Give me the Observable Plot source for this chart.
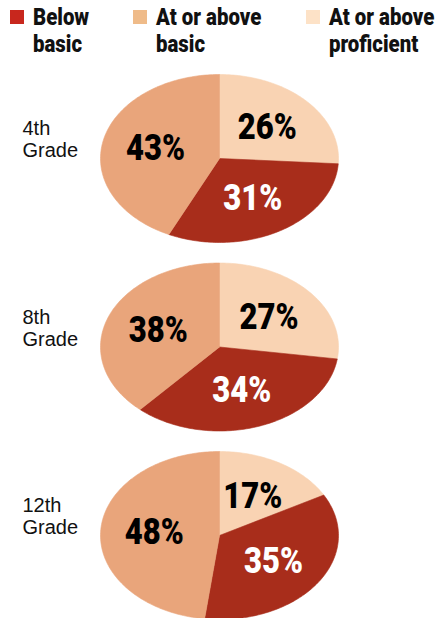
<!DOCTYPE html>
<html>
<head>
<meta charset="utf-8">
<script src="https://cdn.jsdelivr.net/npm/d3@7"></script>
<script src="https://cdn.jsdelivr.net/npm/@observablehq/plot@0.6"></script>
<style>
  html, body { margin: 0; padding: 0; background: #fff; }
  body { width: 436px; height: 618px; overflow: hidden; position: relative; }
  #legend { position: relative; height: 68px; font-family: Roboto, "Liberation Sans", sans-serif; font-weight: 900; font-size: 24px; line-height: 27px; color: #111; }
  .item { position: absolute; top: 4px; }
  .sw { position: absolute; left: 0; top: 6px; width: 14px; height: 14px; }
  .txt { position: absolute; left: 23px; top: 0; white-space: nowrap; transform: scaleX(0.85); transform-origin: 0 0; }
  #chart svg { display: block; }
</style>
</head>
<body>
<div id="legend"></div>
<div id="chart"></div>
<script>
// ---- data ----
const grades = ["4th", "8th", "12th"];
const categories = ["Below basic", "At or above basic", "At or above proficient"];
const legendLines = [["Below", "basic"], ["At or above", "basic"], ["At or above", "proficient"]];
const belowBasic = [31, 34, 35];
const atOrAboveBasic = [43, 38, 48];
const atOrAboveProficient = [26, 27, 17];

// ---- styles ----
const pieColors = ["#a82d1b", "#e9a57b", "#f9d3b3"];
const legendColors = ["#c8271d", "#efbb89", "#fde2c7"];
const labelColors = ["#ffffff", "#000000", "#000000"];
const legendX = [10, 133, 306];

// legend
const legend = document.getElementById("legend");
categories.forEach((c, i) => {
  const d = document.createElement("div");
  d.className = "item";
  d.style.left = legendX[i] + "px";
  d.innerHTML = `<span class="sw" style="background:${legendColors[i]}"></span><span class="txt">${legendLines[i][0]}<br>${legendLines[i][1]}</span>`;
  legend.appendChild(d);
});

// layout
const W = 436, H = 550;
const cx = 219, rx = 119, ry = 84;
const cy0 = 90, dy = 188.5;

// clockwise from 12 o'clock: proficient, below basic, at/above basic
const order = [2, 0, 1];
const seriesByCat = [belowBasic, atOrAboveBasic, atOrAboveProficient];

const slicePts = [];
const labels = [];
grades.forEach((g, gi) => {
  const cy = cy0 + gi * dy;
  const vals = order.map(ci => seriesByCat[ci][gi]);
  const total = d3.sum(vals);
  let acc = 0;
  order.forEach((ci, k) => {
    const v = vals[k];
    const a0 = acc / total * 2 * Math.PI;
    const a1 = (acc + v) / total * 2 * Math.PI;
    acc += v;
    const key = g + "-" + ci;
    slicePts.push({key, cat: categories[ci], x: cx, y: cy});
    const n = Math.max(2, Math.ceil((a1 - a0) / 0.02));
    for (let j = 0; j <= n; j++) {
      const a = a0 + (a1 - a0) * j / n;
      slicePts.push({key, cat: categories[ci], x: cx + rx * Math.sin(a), y: cy - ry * Math.cos(a)});
    }
    slicePts.push({key, cat: categories[ci], x: cx, y: cy});
    const am = (a0 + a1) / 2;
    labels.push({text: v + "%", x: cx + 0.55 * rx * Math.sin(am), y: cy - 0.55 * ry * Math.cos(am), color: labelColors[ci]});
  });
});

const gradeLabels = grades.map((g, gi) => ({text: g + "\nGrade", x: 22, y: cy0 + gi * dy - 39}));

const plot = Plot.plot({
  width: W, height: H,
  margin: 0,
  x: {domain: [0, W], range: [0, W], axis: null},
  y: {domain: [0, H], range: [0, H], axis: null},
  color: {domain: categories, range: pieColors},
  marks: [
    Plot.line(slicePts, {x: "x", y: "y", z: "key", fill: "cat", stroke: "cat", strokeWidth: 0.6, curve: "linear"}),
    Plot.text(labels, {x: "x", y: "y", text: "text", fill: d => d.color, fontSize: 37, fontWeight: 900,
      fontFamily: "Roboto, 'Liberation Sans', sans-serif", className: "pct"}),
    Plot.text(gradeLabels, {x: "x", y: "y", text: "text", textAnchor: "start", lineAnchor: "top", lineHeight: 1.1,
      fontSize: 20, fill: "#111", fontFamily: "'Liberation Sans', Arial, sans-serif"})
  ]
});
// condense the bold percentage labels horizontally (stand-in for a condensed typeface)
d3.select(plot).selectAll("g.pct text").each(function() {
  const t = d3.select(this);
  const tr = t.attr("transform") || "";
  t.attr("transform", tr + " scale(0.84,1)");
});
document.getElementById("chart").appendChild(plot);
</script>
</body>
</html>
